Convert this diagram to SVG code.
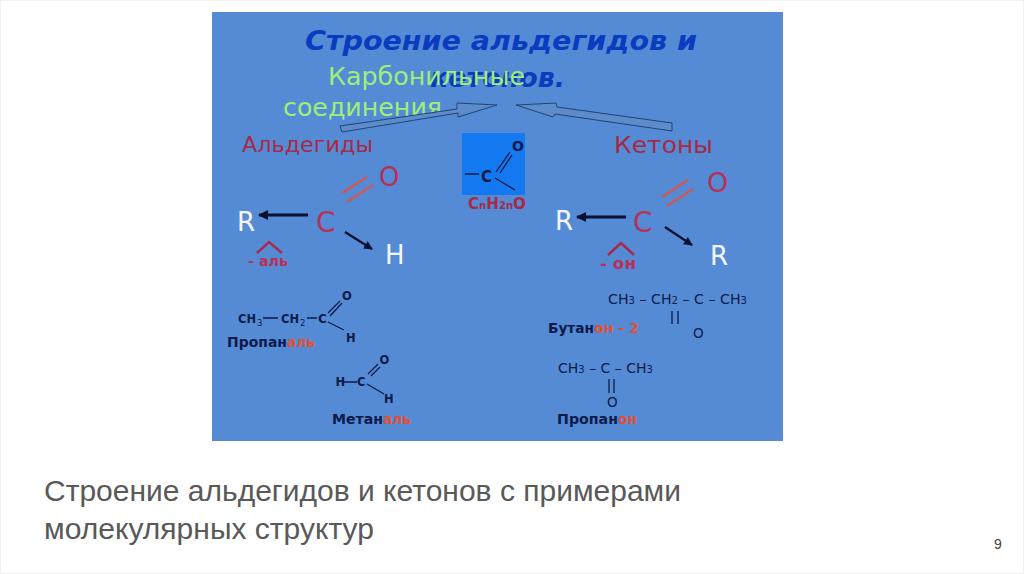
<svg xmlns="http://www.w3.org/2000/svg" width="1024" height="574" viewBox="0 0 1024 574">
<defs>
<marker id="ah" viewBox="0 0 10 10" refX="9" refY="5" markerWidth="3.6" markerHeight="3.6" orient="auto"><path d="M0 0L10 5L0 10Z" fill="#0a1030"/></marker>
<marker id="ah2" viewBox="0 0 10 10" refX="9" refY="5" markerWidth="4" markerHeight="4" orient="auto"><path d="M0 0L10 5L0 10Z" fill="#0a1030"/></marker>
</defs>
<style>
text{font-family:"DejaVu Sans","Noto Sans",sans-serif}
.cap{font-family:"Liberation Sans",Arial,sans-serif;fill:#595959;font-size:30px}
.red{fill:#b83058}.dk{fill:#0c1a4a}.or{fill:#e0503a}.wh{fill:#f2f6fc}
.b{font-weight:bold}
.lbl{fill:#a52a48}
.t{font-size:26px;font-weight:bold;font-style:oblique;fill:#0a3cc0}
.g{font-size:25px;fill:#a0ee78}
.bond{stroke:#0c1a4a;stroke-width:1.3;fill:none}
.dbl{stroke:#cc5a58;stroke-width:2.6;fill:none}
.ar{stroke:#0a1030;stroke-width:2.8;fill:none;marker-end:url(#ah)}
.ar2{stroke:#0a1030;stroke-width:2.2;fill:none;marker-end:url(#ah2)}
.bl{fill:#5e8ccb;stroke:#1f4478;stroke-width:1}
.roof{stroke:#a82a4a;stroke-width:2.4;fill:none}
</style>
<rect width="1024" height="574" fill="#ffffff"/>
<rect x="0.5" y="0.5" width="1023" height="573" fill="none" stroke="#f2f2f2"/>
<rect id="panel" x="212" y="12" width="571" height="429" fill="#558bd5"/>
<g id="title">
<text class="t" x="305" y="50" textLength="392" lengthAdjust="spacingAndGlyphs">Строение альдегидов и</text>
<text class="t" x="430" y="87" textLength="135" lengthAdjust="spacingAndGlyphs">кетонов.</text>
</g>
<g id="carbonyl">
<text class="g" x="328" y="85" textLength="197" lengthAdjust="spacingAndGlyphs">Карбонильные</text>
<text class="g" x="283" y="116" textLength="159" lengthAdjust="spacingAndGlyphs">соединения</text>
</g>
<g id="connectors">
<path class="bl" d="M340 126L457 109L457 103L497 105L458 117L458 113L342 132Z"/>
<path class="bl" d="M672 123L672 131L555 114L553 117L516 105L556 103L557 107Z"/>
<path class="ar" d="M308 215H259"/>
<path class="ar2" d="M345 232L372 249"/>
<path class="ar" d="M626 217H577"/>
<path class="ar2" d="M665 227L692 245"/>
<path class="dbl" d="M342 193L367 177M347 202L373 185"/>
<path class="dbl" d="M662 197L688 180M667 206L693 189"/>
</g>
<g id="aldehydes">
<text x="242" y="152" class="lbl" font-size="21" textLength="131" lengthAdjust="spacingAndGlyphs">Альдегиды</text>
<text x="379" y="186" class="red" font-size="26">O</text>
<text x="316" y="232" class="red" font-size="28">C</text>
<text x="237" y="231" class="wh" font-size="26">R</text>
<text x="385" y="264" class="wh" font-size="26">H</text>
<path class="roof" d="M257 253L269 242L282 253"/>
<text x="248" y="266" class="red b" font-size="14" textLength="40" lengthAdjust="spacingAndGlyphs">- аль</text>
</g>
<g id="carbonyl-core">
<rect x="462" y="133" width="63" height="62" fill="#1478f0"/>
<text x="481" y="182" class="dk b" font-size="15">C</text>
<text x="512" y="151" class="dk b" font-size="14">O</text>
<path class="bond" stroke-width="1.6" d="M465 174H479M496 172L510 152M500 173L512 155M495 178L515 190"/>
<text x="468" y="209" class="lbl b" font-size="15" textLength="58" lengthAdjust="spacingAndGlyphs">C<tspan font-size="10">n</tspan>H<tspan font-size="10">2n</tspan>O</text>
</g>
<g id="ketones">
<text x="614" y="153" class="lbl" font-size="23" textLength="99" lengthAdjust="spacingAndGlyphs">Кетоны</text>
<text x="707" y="192" class="red" font-size="27">O</text>
<text x="633" y="232" class="red" font-size="28">C</text>
<text x="555" y="230" class="wh" font-size="26">R</text>
<text x="710" y="265" class="wh" font-size="26">R</text>
<path class="roof" d="M608 255L621 243L634 255"/>
<text x="600" y="269" class="red b" font-size="15" textLength="36" lengthAdjust="spacingAndGlyphs">- он</text>
</g>
<g id="propanal">
<text x="238" y="323" class="dk b" font-size="12" textLength="18" lengthAdjust="spacingAndGlyphs">CH</text>
<text x="257" y="326" class="dk" font-size="8.5">3</text>
<text x="281" y="323" class="dk b" font-size="12" textLength="18" lengthAdjust="spacingAndGlyphs">CH</text>
<text x="300" y="326" class="dk" font-size="8.5">2</text>
<text x="318" y="323" class="dk b" font-size="12">C</text>
<text x="342" y="300" class="dk b" font-size="11.5">O</text>
<text x="346" y="341.5" class="dk b" font-size="11.5">H</text>
<path class="bond" d="M263 318H278M307 318H317M328 313L340 301M330 316L342 303M328 322L344 330"/>
<text x="227" y="347" class="dk b" font-size="14" textLength="60" lengthAdjust="spacingAndGlyphs">Пропан</text>
<text x="287" y="347" class="or b" font-size="14" textLength="28" lengthAdjust="spacingAndGlyphs">аль</text>
</g>
<g id="methanal">
<text x="335.500" y="386" class="dk b" font-size="11.500">H</text>
<text x="357" y="386" class="dk b" font-size="11.500">C</text>
<text x="379.500" y="364" class="dk b" font-size="11.500">O</text>
<text x="384" y="403" class="dk b" font-size="11.500">H</text>
<path class="bond" d="M344 382H357M368 374L378 364M371 376L380 367M367 384L384 394"/>
<text x="332" y="424" class="dk b" font-size="14" textLength="51" lengthAdjust="spacingAndGlyphs">Метан</text>
<text x="383" y="424" class="or b" font-size="14" textLength="28" lengthAdjust="spacingAndGlyphs">аль</text>
</g>
<g id="butanone">
<text x="608" y="304" class="dk" font-size="14" textLength="139" lengthAdjust="spacingAndGlyphs">CH<tspan font-size="10">3</tspan> – CH<tspan font-size="10">2</tspan> – C – CH<tspan font-size="10">3</tspan></text>
<path class="bond" stroke-width="1.8" d="M672 311V324M678 311V324"/>
<text x="693" y="338" class="dk" font-size="13.500">O</text>
<text x="548" y="333" class="dk b" font-size="14" textLength="46" lengthAdjust="spacingAndGlyphs">Бутан</text>
<text x="594" y="333" class="or b" font-size="14" textLength="45" lengthAdjust="spacingAndGlyphs">он - 2</text>
</g>
<g id="propanone">
<text x="558" y="373" class="dk" font-size="14" textLength="95" lengthAdjust="spacingAndGlyphs">CH<tspan font-size="10">3</tspan> – C – CH<tspan font-size="10">3</tspan></text>
<path class="bond" stroke-width="1.8" d="M609 379V393M614 379V393"/>
<text x="607" y="407" class="dk" font-size="13.500">O</text>
<text x="557" y="424" class="dk b" font-size="14" textLength="61" lengthAdjust="spacingAndGlyphs">Пропан</text>
<text x="618" y="424" class="or b" font-size="14" textLength="19" lengthAdjust="spacingAndGlyphs">он</text>
</g>
<g id="caption">
<text x="44" y="501" class="cap" textLength="637" lengthAdjust="spacingAndGlyphs">Строение альдегидов и кетонов с примерами</text>
<text x="44" y="539" class="cap" textLength="330" lengthAdjust="spacingAndGlyphs">молекулярных структур</text>
<text x="994" y="549" font-size="14" fill="#404040" style="font-family:'Liberation Sans',sans-serif">9</text>
</g>
</svg>
